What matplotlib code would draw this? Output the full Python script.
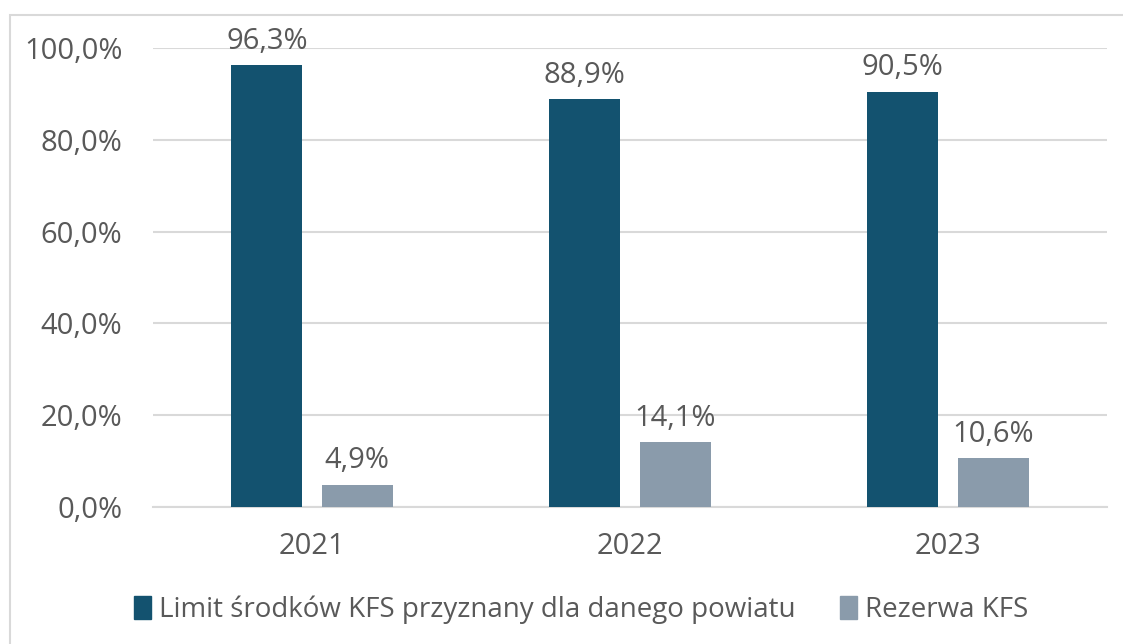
import matplotlib
matplotlib.use("Agg")
import matplotlib.pyplot as plt
from matplotlib.patches import Rectangle, Patch
import numpy as np

categories = ["2021", "2022", "2023"]
limit_vals = [96.3, 88.9, 90.5]
rezerwa_vals = [4.9, 14.1, 10.6]
series_names = ["Limit środków KFS przyznany dla danego powiatu", "Rezerwa KFS"]
yticks = [0, 20, 40, 60, 80, 100]

plt.rcParams['font.family'] = ['Open Sans', 'DejaVu Sans']
TXT = '#595959'
C1 = '#13526f'
C2 = '#8a9bab'

fig = plt.figure(figsize=(11.23, 6.44), dpi=100)
W, H = 1123, 644
ax = fig.add_axes([153/W, 1-507/H, (1107-153)/W, (507-48)/H])

x = np.arange(len(categories))
w = 0.224
off = 0.142
b1 = ax.bar(x - off, limit_vals, w, color=C1, zorder=3)
b2 = ax.bar(x + off, rezerwa_vals, w, color=C2, zorder=3)

for bars, vals in ((b1, limit_vals), (b2, rezerwa_vals)):
    for r, v in zip(bars, vals):
        ax.text(r.get_x() + r.get_width()/2, v + 2.0, f"{v:.1f}%".replace('.', ','),
                ha='center', va='bottom', fontsize=21, color=TXT, clip_on=False)

ax.set_xlim(-0.5, 2.5)
ax.set_ylim(0, 100)
ax.set_yticks(yticks)
ax.set_yticklabels([f"{t:.1f}%".replace('.', ',') for t in yticks])
ax.set_xticks(x)
ax.set_xticklabels(categories)
ax.tick_params(axis='both', length=0, labelsize=21, colors=TXT)
ax.tick_params(axis='y', pad=22)
ax.tick_params(axis='x', pad=18)
ax.grid(axis='y', color='#d9d9d9', linewidth=1.5, zorder=0)
for s in ['top', 'right', 'left']:
    ax.spines[s].set_visible(False)
ax.spines['bottom'].set_color('#d9d9d9')
ax.spines['bottom'].set_linewidth(1.5)

handles = [Patch(color=C1), Patch(color=C2)]
leg = fig.legend(handles, series_names, loc='center', bbox_to_anchor=(581/W, 1-610/H),
                 ncol=2, frameon=False, fontsize=20, handlelength=0.6, handleheight=0.9,
                 handletextpad=0.3, columnspacing=1.6, labelcolor=TXT)

fig.patches.append(Rectangle((10/W, -0.1), 1.2, 1 - 15/H + 0.1, transform=fig.transFigure,
                             fill=False, edgecolor='#d9d9d9', linewidth=1.5, zorder=-1))

fig.savefig("out.png", dpi=100)
